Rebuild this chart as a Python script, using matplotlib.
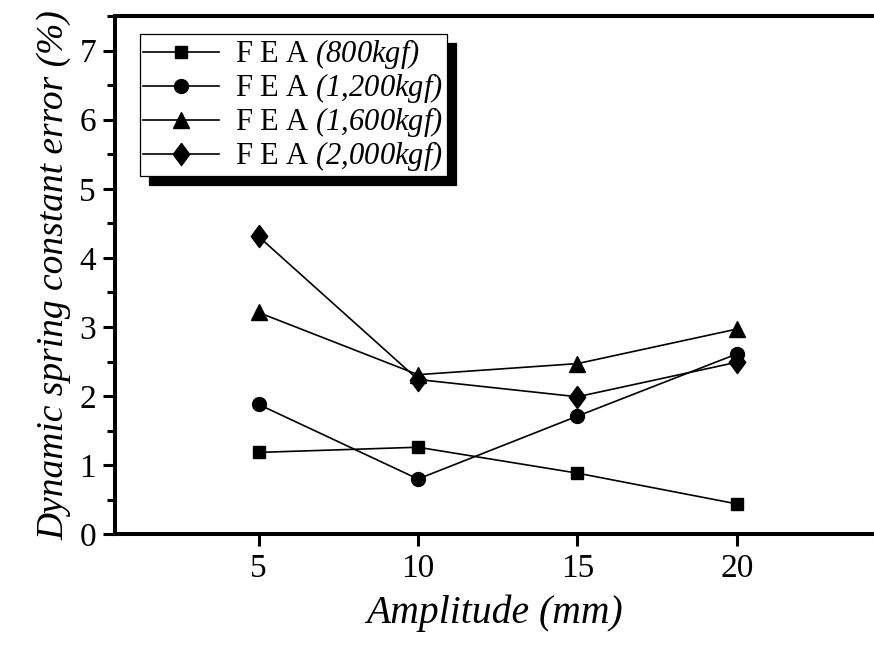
import matplotlib
matplotlib.use("Agg")
import matplotlib.pyplot as plt
from matplotlib.ticker import MultipleLocator

plt.rcParams["font.family"] = ["Liberation Serif", "DejaVu Serif"]
# the math segment of each legend entry is set entirely in italic
plt.rcParams["mathtext.fontset"] = "custom"
plt.rcParams["mathtext.rm"] = "Liberation Serif:italic"
plt.rcParams["mathtext.it"] = "Liberation Serif:italic"

amplitude = [5, 10, 15, 20]
err_800 = [1.185, 1.26, 0.885, 0.44]
err_1200 = [1.88, 0.80, 1.71, 2.61]
err_1600 = [3.21, 2.31, 2.47, 2.97]
err_2000 = [4.31, 2.24, 1.99, 2.49]
labels = [
    r"F E A $(800kgf)$ ",
    r"F E A $(1{,}200kgf)$ ",
    r"F E A $(1{,}600kgf)$ ",
    r"F E A $(2{,}000kgf)$ ",
]

diamond = [(0, 1), (0.74, 0), (0, -1), (-0.74, 0), (0, 1)]
styles = [
    dict(marker="s", ms=8.6),
    dict(marker="o", ms=10),
    dict(marker="^", ms=11.5),
    dict(marker=diamond, ms=16),
]

fig = plt.figure(figsize=(8.74, 6.48), dpi=100)
ax = fig.add_axes([115 / 874, 1 - 534.3 / 648, 1 - 115 / 874, (534.3 - 16) / 648])

for series, lab, st in zip([err_800, err_1200, err_1600, err_2000], labels, styles):
    ax.plot(amplitude, series, color="black", lw=1.2, mfc="black", mec="black",
            label=lab, **st)

ax.set_xlim(0.5, 24.3)
ax.set_ylim(0, 7.5)
ax.set_xticks(amplitude)
ax.yaxis.set_major_locator(MultipleLocator(1))
ax.yaxis.set_minor_locator(MultipleLocator(0.5))

for side in ["left", "top", "bottom"]:
    ax.spines[side].set_linewidth(2.9)
ax.spines["right"].set_visible(False)

ax.tick_params(axis="both", which="major", direction="out", length=8.6, width=2.2,
               labelsize=24, pad=5)
ax.tick_params(axis="y", which="minor", direction="out", length=5.5, width=2.2)
ax.tick_params(axis="x", which="minor", bottom=False)

ax.set_xlabel("Amplitude (mm)", fontsize=28.5, style="italic", labelpad=8)
ax.set_ylabel("Dynamic spring constant error (%)", fontsize=27, style="italic", labelpad=6)

leg = ax.legend(loc="upper left", bbox_to_anchor=(0.033, 0.965), fontsize=22,
                frameon=True, fancybox=False, edgecolor="black", framealpha=1,
                borderpad=0.1, labelspacing=0.0, handlelength=2.5, handletextpad=0.5,
                borderaxespad=0,
                shadow={"ox": 6.5, "oy": -6.5, "color": "black", "alpha": 1})
leg.get_frame().set_linewidth(0.9)

fig.savefig("out.png", dpi=100)
